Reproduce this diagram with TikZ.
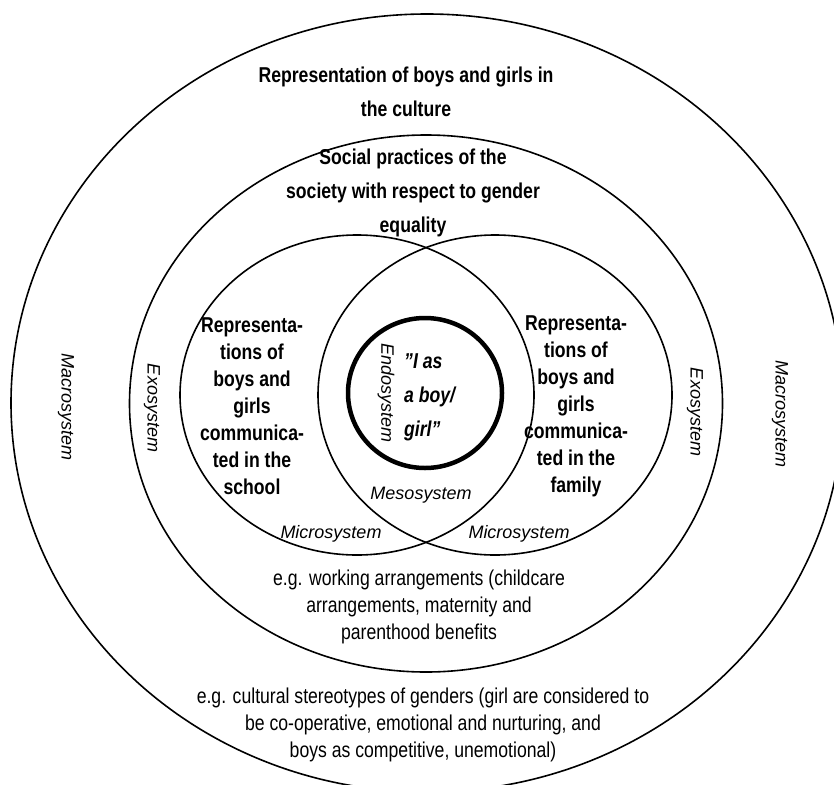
\documentclass[tikz,border=0pt]{standalone}
\usepackage{fontspec}
\setmainfont{Liberation Sans}
\newfontfamily\narrowfont{Liberation Sans}[FakeStretch=0.82]
\begin{document}
\begin{tikzpicture}[x=1pt,y=-1pt,
  ring/.style={line width=1.6pt},
  core/.style={line width=4.5pt},
  heading/.style={font=\narrowfont\bfseries\fontsize{21.5}{34}\selectfont, align=center, inner sep=0pt},
  sphere/.style={font=\narrowfont\bfseries\fontsize{21.5}{27}\selectfont, align=center, inner sep=0pt},
  selftext/.style={font=\narrowfont\bfseries\itshape\fontsize{21.5}{34}\selectfont, align=left, inner sep=0pt},
  example/.style={font=\narrowfont\fontsize{21.5}{27}\selectfont, align=center, inner sep=0pt},
  level/.style={font=\itshape\fontsize{18}{18}\selectfont, inner sep=0pt},
  vlevel/.style={level, rotate=-90}]
\useasboundingbox (0,0) rectangle (834,784);
\clip (0,0) rectangle (834,784);

% nested systems
\draw[ring] (427,403) ellipse [x radius=416, y radius=389];
\draw[ring] (426,403.5) ellipse [x radius=296.5, y radius=268.5];
\draw[ring] (357,395) ellipse [x radius=177, y radius=160];
\draw[ring] (495,395) ellipse [x radius=177, y radius=160];
\draw[core] (425,393) ellipse [x radius=77, y radius=75];

% headings of the outer systems
\node[heading] (culture) at (406,92) {Representation of boys and girls in\\the culture};
\node[heading] (society) at (413,193) {Social practices of the\\society with respect to gender\\equality};

% the two microsystems
\node[sphere] (school) at (252,406) {Representa-\\tions of\\boys and\\girls\\communica-\\ted in the\\school};
\node[sphere] (family) at (576,406) {Representa-\\tions of\\boys and\\girls\\communica-\\ted in the\\family};

% the self
\node[selftext, anchor=west] (self) at (404,397) {”I as\\a boy/\\girl”};

% system labels
\node[vlevel] (macroL) at (66,407) {Macrosystem};
\node[vlevel] (macroR) at (780,414) {Macrosystem};
\node[vlevel] (exoL) at (152,408) {Exosystem};
\node[vlevel] (exoR) at (695,412) {Exosystem};
\node[vlevel] (endo) at (386,393) {Endosystem};
\node[level] (meso) at (421,495) {Mesosystem};
\node[level] (microL) at (331,534) {Microsystem};
\node[level] (microR) at (519,534) {Microsystem};

% examples
\node[example] (work) at (419,607) {e.g. working arrangements (childcare\\arrangements, maternity and\\parenthood benefits};
\node[example] (stereo) at (423,725) {e.g. cultural stereotypes of genders (girl are considered to\\be co-operative, emotional and nurturing, and\\boys as competitive, unemotional)};
\end{tikzpicture}
\end{document}
